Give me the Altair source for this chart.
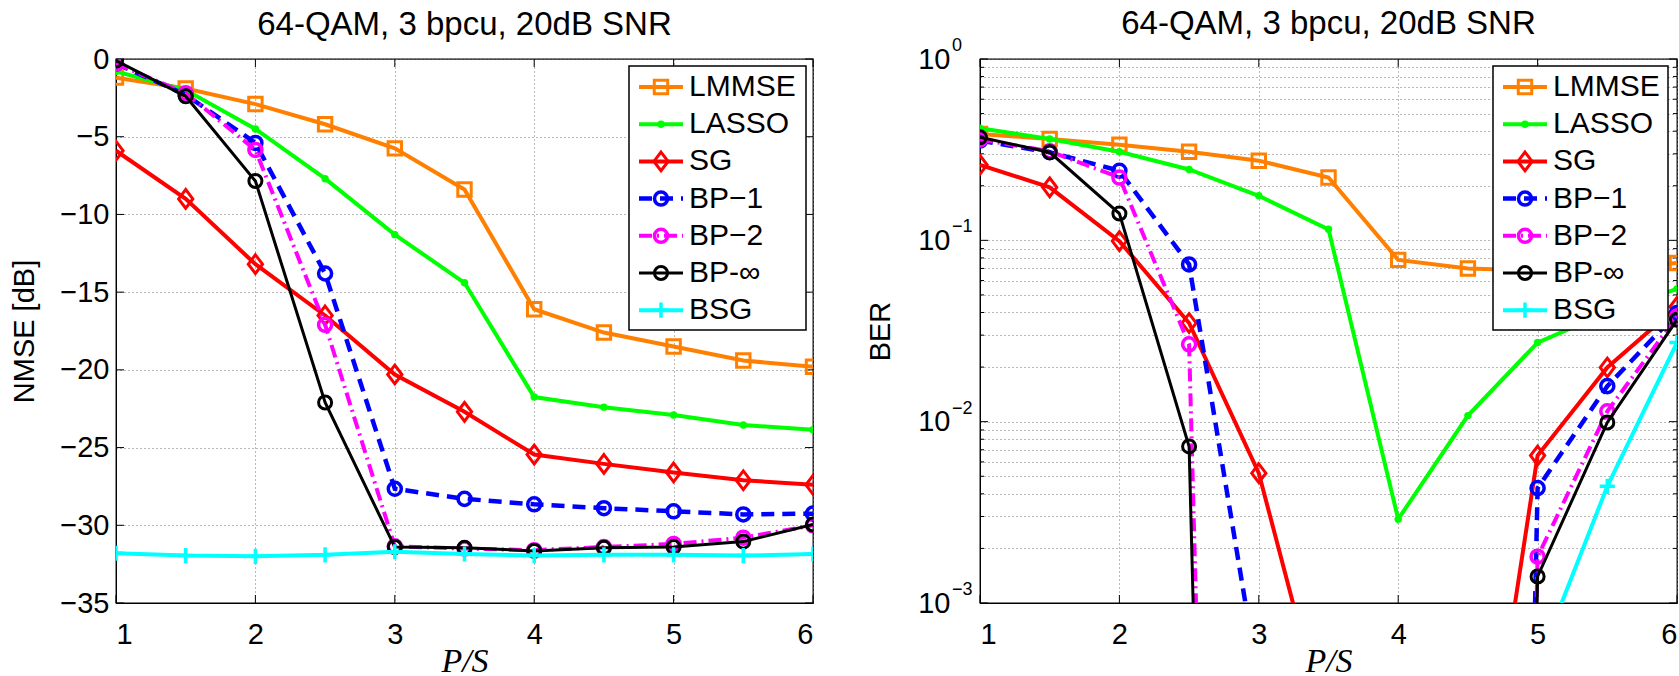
import altair as alt
import pandas as pd

# ---------------- data ----------------
ps = [1, 1.5, 2, 2.5, 3, 3.5, 4, 4.5, 5, 5.5, 6]
names = ["LMMSE", "LASSO", "SG", "BP\u22121", "BP\u22122", "BP-\u221e", "BSG"]

nmse_lmmse = [-1.2, -1.9, -2.9, -4.2, -5.75, -8.4, -16.1, -17.6, -18.5, -19.4, -19.8]
nmse_lasso = [-0.8, -2.0, -4.5, -7.7, -11.3, -14.4, -21.75, -22.4, -22.9, -23.55, -23.85]
nmse_sg = [-5.9, -9.0, -13.2, -16.5, -20.3, -22.7, -25.45, -26.05, -26.6, -27.1, -27.4]
nmse_bp1 = [-0.3, -2.3, -5.4, -13.8, -27.65, -28.3, -28.65, -28.9, -29.1, -29.3, -29.25]
nmse_bp2 = [-0.3, -2.2, -5.85, -17.1, -31.35, -31.5, -31.6, -31.4, -31.2, -30.8, -30.0]
nmse_bpinf = [-0.1, -2.4, -7.85, -22.1, -31.4, -31.45, -31.65, -31.45, -31.4, -31.05, -29.95]
nmse_bsg = [-31.8, -31.95, -32.0, -31.9, -31.7, -31.85, -31.95, -31.9, -31.9, -31.95, -31.85]

ber_lmmse = [0.386, 0.362, 0.337, 0.308, 0.275, 0.222, 0.078, 0.070, 0.068, 0.070, 0.075]
ber_lasso = [0.415, 0.362, 0.308, 0.246, 0.176, 0.115, 0.0029, 0.0108, 0.0273, 0.040, 0.054]
ber_sg = [0.261, 0.196, 0.099, 0.035, 0.0052, 1.8e-4, 1e-5, 2e-5, 0.0065, 0.0199, 0.043]
ber_bp1 = [0.355, 0.306, 0.242, 0.0736, 3.6e-4, 1e-20, 1e-20, 1e-20, 0.0043, 0.0157, 0.0397]
ber_bp2 = [0.36, 0.31, 0.222, 0.0267, 1e-16, 1e-20, 1e-20, 1e-20, 0.0018, 0.0114, 0.038]
ber_bpinf = [0.37, 0.306, 0.1405, 0.0073, 1e-17, 1e-20, 1e-20, 1e-20, 0.0014, 0.0099, 0.0365]
ber_bsg = [1e-20, 1e-20, 1e-20, 1e-20, 1e-20, 1e-20, 1e-20, 1e-20, 4.6e-4, 0.0044, 0.0273]

nmse_all = [nmse_lmmse, nmse_lasso, nmse_sg, nmse_bp1, nmse_bp2, nmse_bpinf, nmse_bsg]
ber_all = [ber_lmmse, ber_lasso, ber_sg, ber_bp1, ber_bp2, ber_bpinf, ber_bsg]

x_ticks = [1, 2, 3, 4, 5, 6]
nmse_ticks = [-35, -30, -25, -20, -15, -10, -5, 0]
ber_grid = [0.001, 0.002, 0.003, 0.004, 0.005, 0.006, 0.007, 0.008, 0.009,
            0.01, 0.02, 0.03, 0.04, 0.05, 0.06, 0.07, 0.08, 0.09,
            0.1, 0.2, 0.3, 0.4, 0.5, 0.6, 0.7, 0.8, 0.9, 1.0]
ber_minor = [0.002, 0.003, 0.004, 0.005, 0.006, 0.007, 0.008, 0.009,
             0.02, 0.03, 0.04, 0.05, 0.06, 0.07, 0.08, 0.09,
             0.2, 0.3, 0.4, 0.5, 0.6, 0.7, 0.8, 0.9]
ber_decades = [1.0, 0.1, 0.01, 0.001]
ber_exponents = ["0", "\u22121", "\u22122", "\u22123"]
title_text = "64-QAM, 3 bpcu, 20dB SNR"

# ---------------- styles ----------------
colors = ["#ff8000", "#00ff00", "#ff0000", "#0000ff", "#ff00ff", "#000000", "#00ffff"]
line_w = [4, 4, 4, 4.5, 4, 3, 4]
dashes = [None, None, None, [13, 8], [13, 5, 2, 5], None, None]
shapes = ["square", "circle", "M0,-1L0.76,0L0,1L-0.76,0Z", "circle", "circle", "circle",
          "M-1,0L1,0M0,-1L0,1"]
sizes = [180, 55, 350, 170, 170, 170, 230]
filled = [False, True, False, False, False, False, False]
mark_sw = [3, 1, 3, 3.5, 3.5, 3, 3.5]

W, H = 697, 544
FONT = "Liberation Sans"
GRID = dict(grid=True, gridDash=[1, 3], gridColor="#707070", gridWidth=1,
            ticks=False, tickSize=0, domainColor="black", labelColor="black",
            titleColor="black", labelFont=FONT, labelFontSize=29)

xaxis = alt.Axis(values=x_ticks, format="d", title="P/S", labelPadding=17,
                 titleFont="Liberation Serif", titleFontStyle="italic",
                 titleFontWeight="normal", titleFontSize=34, titleY=58,
                 titleBaseline="middle", **GRID)
xscale = alt.Scale(domain=[1, 6], nice=False, zero=False)


def inner_ticks(X, Y, yvals, ylen, yminor=None):
    out = []
    dx = pd.DataFrame({"x": x_ticks})
    out.append(alt.Chart(dx).mark_rule(color="black", strokeWidth=1).encode(
        x=X, y=alt.value(H), y2=alt.value(H - 8)))
    out.append(alt.Chart(dx).mark_rule(color="black", strokeWidth=1).encode(
        x=X, y=alt.value(0), y2=alt.value(8)))
    groups = [(yvals, ylen)]
    if yminor is not None:
        groups.append((yminor, 4))
    for vals, ln in groups:
        dy = pd.DataFrame({"v": vals})
        out.append(alt.Chart(dy).mark_rule(color="black", strokeWidth=1).encode(
            y=Y, x=alt.value(0), x2=alt.value(ln)))
        out.append(alt.Chart(dy).mark_rule(color="black", strokeWidth=1).encode(
            y=Y, x=alt.value(W), x2=alt.value(W - ln)))
    return out


def legend_layers(box_right):
    out = [alt.Chart(pd.DataFrame({"k": [0]})).mark_rect(
        fill="white", stroke="black", strokeWidth=1.5).encode(
        x=alt.value(513), x2=alt.value(box_right), y=alt.value(7), y2=alt.value(271))]
    for i, name in enumerate(names):
        yy = 28 + 37.2 * i
        d = pd.DataFrame({"k": [0]})
        rk = dict(color=colors[i], strokeWidth=line_w[i])
        if dashes[i]:
            rk["strokeDash"] = dashes[i]
        out.append(alt.Chart(d).mark_rule(**rk).encode(
            x=alt.value(523), x2=alt.value(567), y=alt.value(yy)))
        out.append(alt.Chart(d).mark_point(
            shape=shapes[i], size=sizes[i], filled=filled[i], strokeWidth=mark_sw[i],
            color=colors[i], opacity=1).encode(x=alt.value(545), y=alt.value(yy)))
        out.append(alt.Chart(d).mark_text(
            text=name, align="left", baseline="middle", fontSize=30, font=FONT,
            color="black").encode(x=alt.value(573), y=alt.value(yy)))
    return out


def panel(values, yscale, yaxis, box_right, title_offset, yvals, yminor=None, extra=None):
    X = alt.X("x:Q", scale=xscale, axis=xaxis)
    Y = alt.Y("v:Q", scale=yscale, axis=yaxis)
    layers = inner_ticks(X, Y, yvals, 8, yminor)
    for i in range(len(names)):
        df = pd.DataFrame({"x": ps, "v": values[i]})
        lk = dict(color=colors[i], strokeWidth=line_w[i], clip=True)
        if dashes[i]:
            lk["strokeDash"] = dashes[i]
        base = alt.Chart(df)
        layers.append(base.mark_line(**lk).encode(x=X, y=Y))
        layers.append(base.mark_point(
            shape=shapes[i], size=sizes[i], filled=filled[i], strokeWidth=mark_sw[i],
            color=colors[i], opacity=1, clip=True).encode(x=X, y=Y))
    if extra is not None:
        layers.append(extra(X, Y))
    layers += legend_layers(box_right)
    return alt.layer(*layers).properties(
        width=W, height=H,
        title=alt.TitleParams(title_text, fontSize=33, font=FONT, fontWeight="normal",
                              color="black", anchor="middle", offset=title_offset,
                              baseline="alphabetic", frame="group"))


nmse_axis = alt.Axis(values=nmse_ticks, title="NMSE [dB]", labelPadding=7,
                     titleFont=FONT, titleFontSize=29, titleFontWeight="normal",
                     titleX=-92, titleBaseline="middle", **GRID)
nmse_scale = alt.Scale(domain=[-35, 0], nice=False, zero=False)

ber_axis = alt.Axis(values=ber_grid, title="BER", labelPadding=30,
                    labelExpr="abs(log(datum.value)/LN10 - round(log(datum.value)/LN10)) < 0.001 ? '10' : ''",
                    titleFont=FONT, titleFontSize=29, titleFontWeight="normal",
                    titleX=-100, titleBaseline="middle", **GRID)
ber_scale = alt.Scale(type="log", domain=[0.001, 1], nice=False)


def exponents(X, Y):
    d = pd.DataFrame({"v": ber_decades, "e": ber_exponents})
    return alt.Chart(d).mark_text(align="left", baseline="middle", dy=-13, fontSize=18,
                                  font=FONT, color="black").encode(
        x=alt.value(-28), y=Y, text="e:N")


left = panel(nmse_all, nmse_scale, nmse_axis, 690, -22.5, nmse_ticks)
right = panel(ber_all, ber_scale, ber_axis, 688, -30, ber_decades, ber_minor,
              extra=exponents)

chart = alt.hconcat(left, right, spacing=167, bounds="flush").properties(
    padding={"left": 9, "top": 7, "right": 0, "bottom": 0}
).configure_view(stroke="black", strokeWidth=1.3)

chart.save("out.html", embed_options={"renderer": "svg", "actions": False})
